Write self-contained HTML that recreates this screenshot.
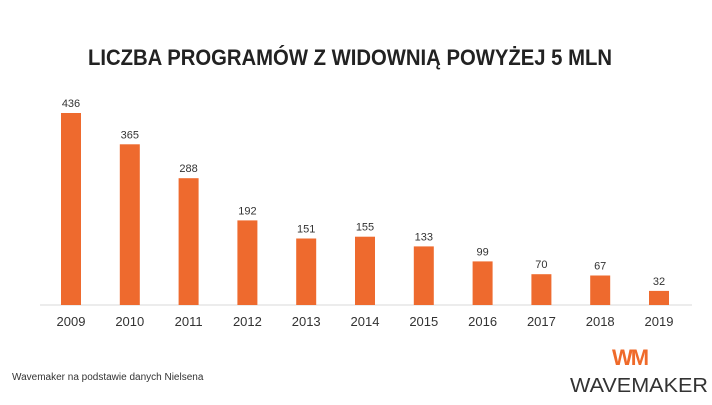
<!DOCTYPE html>
<html><head><meta charset="utf-8"><style>body{margin:0;background:#fff}</style></head><body>
<svg width="712" height="400" xmlns="http://www.w3.org/2000/svg" font-family="Liberation Sans, sans-serif">
<rect width="712" height="400" fill="#fff"/>
<text x="88" y="65" font-size="22" font-weight="bold" fill="#222" textLength="524" lengthAdjust="spacingAndGlyphs">LICZBA PROGRAMÓW Z WIDOWNIĄ POWYŻEJ 5 MLN</text>
<line x1="40" y1="305" x2="692" y2="305" stroke="#d9d9d9" stroke-width="1"/>
<g fill="#ee6a2e">
<rect x="61" y="113" width="20" height="192"/>
<rect x="119.8" y="144.3" width="20" height="160.7"/>
<rect x="178.6" y="178.2" width="20" height="126.8"/>
<rect x="237.4" y="220.4" width="20" height="84.6"/>
<rect x="296.2" y="238.5" width="20" height="66.5"/>
<rect x="355" y="236.7" width="20" height="68.3"/>
<rect x="413.8" y="246.4" width="20" height="58.6"/>
<rect x="472.6" y="261.4" width="20" height="43.6"/>
<rect x="531.4" y="274.2" width="20" height="30.8"/>
<rect x="590.2" y="275.5" width="20" height="29.5"/>
<rect x="649" y="290.9" width="20" height="14.1"/>
</g>
<g font-size="11" fill="#333" text-anchor="middle">
<text x="71" y="107">436</text>
<text x="129.8" y="138.3">365</text>
<text x="188.6" y="172.2">288</text>
<text x="247.4" y="214.4">192</text>
<text x="306.2" y="232.5">151</text>
<text x="365" y="230.7">155</text>
<text x="423.8" y="240.4">133</text>
<text x="482.6" y="255.4">99</text>
<text x="541.4" y="268.2">70</text>
<text x="600.2" y="269.5">67</text>
<text x="659" y="284.9">32</text>
</g>
<g font-size="13" fill="#333" text-anchor="middle">
<text x="71" y="326">2009</text>
<text x="129.8" y="326">2010</text>
<text x="188.6" y="326">2011</text>
<text x="247.4" y="326">2012</text>
<text x="306.2" y="326">2013</text>
<text x="365" y="326">2014</text>
<text x="423.8" y="326">2015</text>
<text x="482.6" y="326">2016</text>
<text x="541.4" y="326">2017</text>
<text x="600.2" y="326">2018</text>
<text x="659" y="326">2019</text>
</g>
<text x="12" y="380" font-size="10" fill="#333">Wavemaker na podstawie danych Nielsena</text>
<text x="612" y="365" font-size="22" font-weight="bold" fill="#ef6a2a" letter-spacing="-2">WM</text>
<text x="570" y="392" font-size="20" fill="#333" textLength="138" lengthAdjust="spacingAndGlyphs">WAVEMAKER</text>
</svg>
</body></html>
